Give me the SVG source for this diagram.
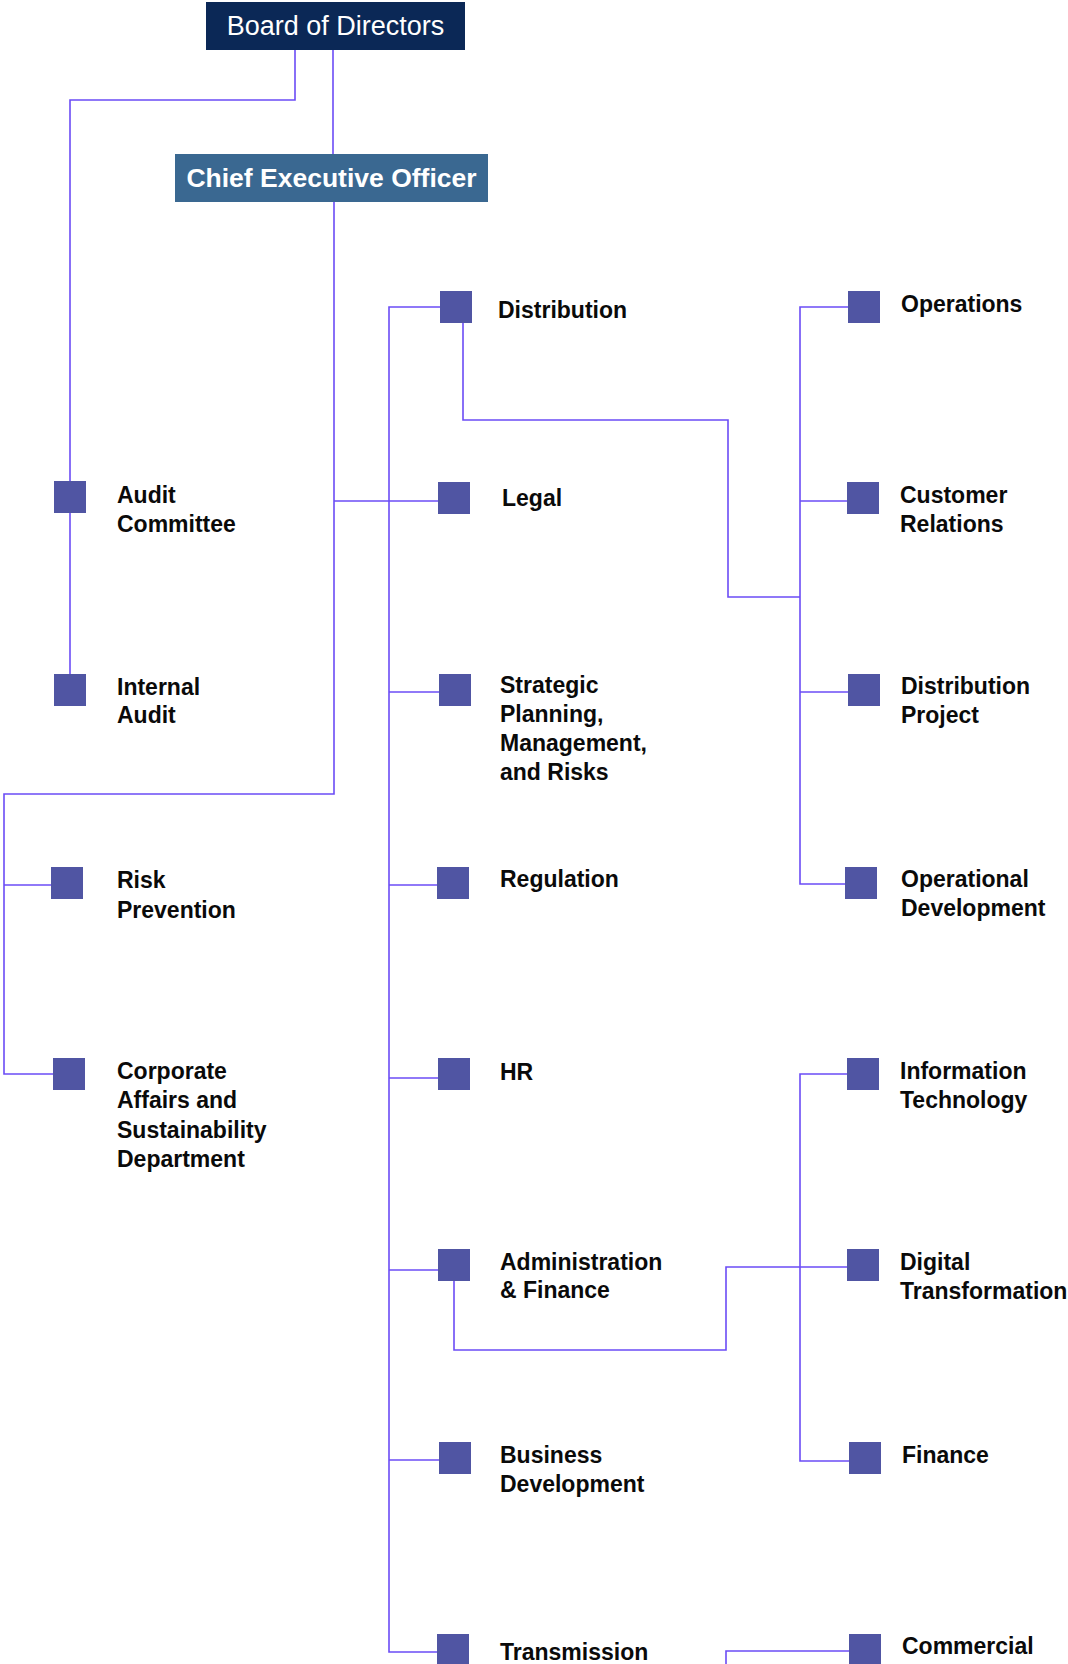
<svg xmlns="http://www.w3.org/2000/svg" width="1068" height="1664" viewBox="0 0 1068 1664">
<style>
.ln{fill:none;stroke:#6b4cf6;stroke-width:1.6}
.sq{fill:#5055a3}
.t{font-family:"Liberation Sans",Arial,sans-serif;font-weight:bold;font-size:23px;fill:#0a0a0a}
.bod{font-family:"Liberation Sans",Arial,sans-serif;font-size:27px;fill:#ffffff}
.ceo{font-family:"Liberation Sans",Arial,sans-serif;font-weight:bold;font-size:26.5px;fill:#ffffff}
</style>
<rect width="1068" height="1664" fill="#ffffff"/>
<g id="connectors">
<path class="ln" d="M295,50 V100 H70 V481"/>
<path class="ln" d="M70,513 V674"/>
<path class="ln" d="M333,50 V154"/>
<path class="ln" d="M334,202 V794 H4 V1074 H64"/>
<path class="ln" d="M4,885 H60"/>
<path class="ln" d="M334,501 H438"/>
<path class="ln" d="M440,307 H389 V1652 H437"/>
<path class="ln" d="M389,692 H439"/>
<path class="ln" d="M389,885 H437"/>
<path class="ln" d="M389,1078 H438"/>
<path class="ln" d="M389,1270 H438"/>
<path class="ln" d="M389,1460 H439"/>
<path class="ln" d="M463,323 V420 H728 V597 H800"/>
<path class="ln" d="M848,307 H800 V884 H845"/>
<path class="ln" d="M800,501 H847"/>
<path class="ln" d="M800,692 H848"/>
<path class="ln" d="M454,1281 V1350 H726 V1267 H847"/>
<path class="ln" d="M847,1074 H800 V1461 H849"/>
<path class="ln" d="M454,1666 V1690 H726 V1651 H850"/>
</g>
<g id="board">
<rect x="206" y="2" width="259" height="48" fill="#0b2856"/>
<text class="bod" x="335.5" y="35" text-anchor="middle">Board of Directors</text>
</g>
<g id="ceo">
<rect x="175" y="154" width="313" height="48" fill="#3a6891"/>
<text class="ceo" x="331.5" y="187" text-anchor="middle">Chief Executive Officer</text>
</g>
<g id="audit-committee">
<rect class="sq" x="54" y="481" width="32" height="32"/>
<text class="t" x="117" y="503">Audit<tspan x="117" y="532">Committee</tspan></text>
</g>
<g id="internal-audit">
<rect class="sq" x="54" y="674" width="32" height="32"/>
<text class="t" x="117" y="695">Internal<tspan x="117" y="723">Audit</tspan></text>
</g>
<g id="risk-prevention">
<rect class="sq" x="51" y="867" width="32" height="32"/>
<text class="t" x="117" y="888">Risk<tspan x="117" y="918">Prevention</tspan></text>
</g>
<g id="corporate-affairs">
<rect class="sq" x="53" y="1058" width="32" height="32"/>
<text class="t" x="117" y="1079">Corporate<tspan x="117" y="1108">Affairs and</tspan><tspan x="117" y="1138">Sustainability</tspan><tspan x="117" y="1167">Department</tspan></text>
</g>
<g id="distribution">
<rect class="sq" x="440" y="291" width="32" height="32"/>
<text class="t" x="498" y="318">Distribution</text>
</g>
<g id="legal">
<rect class="sq" x="438" y="482" width="32" height="32"/>
<text class="t" x="502" y="506">Legal</text>
</g>
<g id="strategic-planning">
<rect class="sq" x="439" y="674" width="32" height="32"/>
<text class="t" x="500" y="693">Strategic<tspan x="500" y="722">Planning,</tspan><tspan x="500" y="751">Management,</tspan><tspan x="500" y="780">and Risks</tspan></text>
</g>
<g id="regulation">
<rect class="sq" x="437" y="867" width="32" height="32"/>
<text class="t" x="500" y="887">Regulation</text>
</g>
<g id="hr">
<rect class="sq" x="438" y="1058" width="32" height="32"/>
<text class="t" x="500" y="1080">HR</text>
</g>
<g id="administration-finance">
<rect class="sq" x="438" y="1249" width="32" height="32"/>
<text class="t" x="500" y="1270">Administration<tspan x="500" y="1298">&amp; Finance</tspan></text>
</g>
<g id="business-development">
<rect class="sq" x="439" y="1442" width="32" height="32"/>
<text class="t" x="500" y="1463">Business<tspan x="500" y="1492">Development</tspan></text>
</g>
<g id="transmission">
<rect class="sq" x="437" y="1634" width="32" height="32"/>
<text class="t" x="500" y="1660">Transmission</text>
</g>
<g id="operations">
<rect class="sq" x="848" y="291" width="32" height="32"/>
<text class="t" x="901" y="312">Operations</text>
</g>
<g id="customer-relations">
<rect class="sq" x="847" y="482" width="32" height="32"/>
<text class="t" x="900" y="503">Customer<tspan x="900" y="532">Relations</tspan></text>
</g>
<g id="distribution-project">
<rect class="sq" x="848" y="674" width="32" height="32"/>
<text class="t" x="901" y="694">Distribution<tspan x="901" y="723">Project</tspan></text>
</g>
<g id="operational-development">
<rect class="sq" x="845" y="867" width="32" height="32"/>
<text class="t" x="901" y="887">Operational<tspan x="901" y="916">Development</tspan></text>
</g>
<g id="information-technology">
<rect class="sq" x="847" y="1058" width="32" height="32"/>
<text class="t" x="900" y="1079">Information<tspan x="900" y="1108">Technology</tspan></text>
</g>
<g id="digital-transformation">
<rect class="sq" x="847" y="1249" width="32" height="32"/>
<text class="t" x="900" y="1270">Digital<tspan x="900" y="1299">Transformation</tspan></text>
</g>
<g id="finance">
<rect class="sq" x="849" y="1442" width="32" height="32"/>
<text class="t" x="902" y="1463">Finance</text>
</g>
<g id="commercial">
<rect class="sq" x="849" y="1634" width="32" height="32"/>
<text class="t" x="902" y="1654">Commercial</text>
</g>
</svg>
